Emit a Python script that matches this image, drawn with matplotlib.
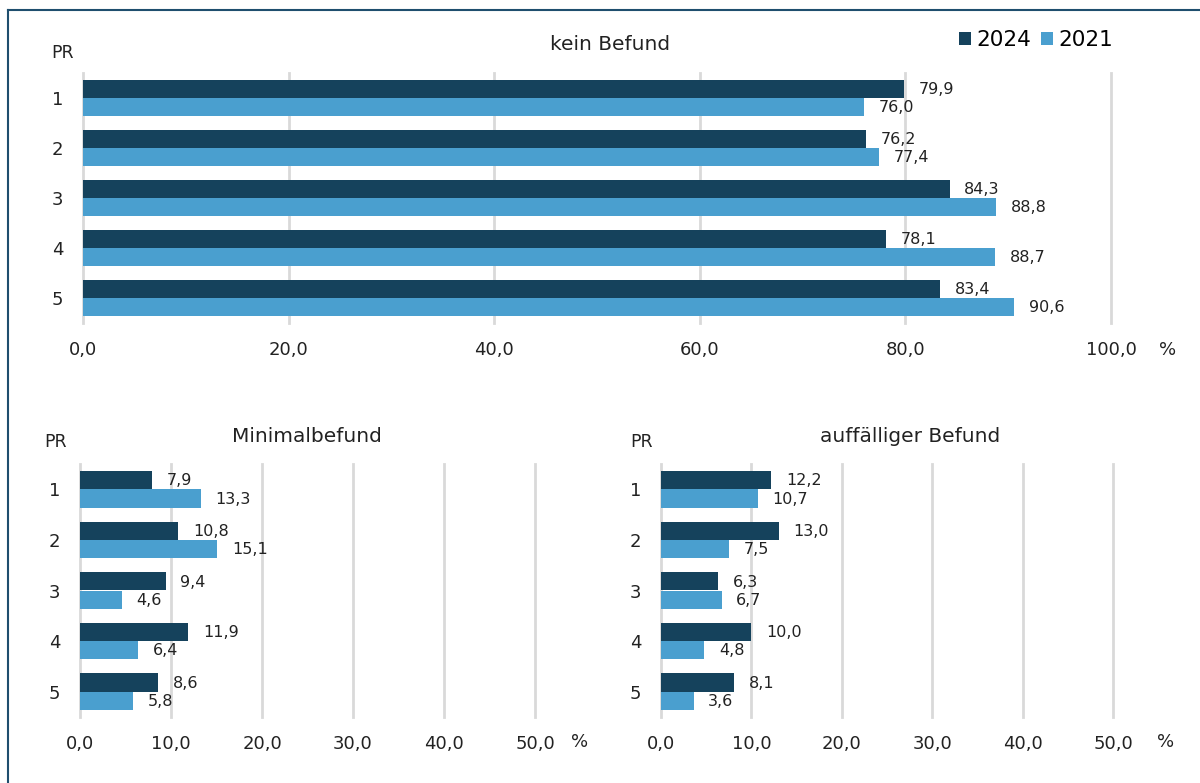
import matplotlib
matplotlib.use("Agg")
import matplotlib.pyplot as plt
from matplotlib.lines import Line2D
from matplotlib.patches import Patch
import numpy as np

categories = ["1", "2", "3", "4", "5"]
series_names = ["2024", "2021"]
kein_2024 = [79.9, 76.2, 84.3, 78.1, 83.4]
kein_2021 = [76.0, 77.4, 88.8, 88.7, 90.6]
minimal_2024 = [7.9, 10.8, 9.4, 11.9, 8.6]
minimal_2021 = [13.3, 15.1, 4.6, 6.4, 5.8]
auff_2024 = [12.2, 13.0, 6.3, 10.0, 8.1]
auff_2021 = [10.7, 7.5, 6.7, 4.8, 3.6]
titles = ["kein Befund", "Minimalbefund", "auffälliger Befund"]
top_ticks = [0, 20, 40, 60, 80, 100]
bottom_ticks = [0, 10, 20, 30, 40, 50]

C_DARK = "#15425C"
C_LIGHT = "#4A9FCF"
GRID = "#D9D9D9"
TXT = "#222222"
FAM = ['DejaVu Sans']

plt.rcParams['font.family'] = FAM
plt.rcParams['font.sans-serif'] = FAM

fig = plt.figure(figsize=(12, 7.83), dpi=100)
W, H = 1200, 783

def px_axes(x0, x1, y0, y1):
    return fig.add_axes([x0 / W, 1 - y1 / H, (x1 - x0) / W, (y1 - y0) / H])

def fmt(v):
    return f"{v:.1f}".replace(".", ",")

def draw(ax, v24, v21, ticks, pct_x, pct_y):
    n = len(categories)
    y = np.arange(n)
    h = 0.36
    ax.barh(y - h / 2, v24, height=h, color=C_DARK, zorder=3)
    ax.barh(y + h / 2, v21, height=h, color=C_LIGHT, zorder=3)
    ax.set_ylim(n - 0.5, -0.5)
    ax.set_xlim(ticks[0], ticks[-1])
    ax.set_xticks(ticks)
    ax.set_xticklabels([fmt(t) for t in ticks], fontsize=13, color=TXT, family=FAM)
    ax.set_yticks(y)
    ax.set_yticklabels(categories, fontsize=13, color=TXT, family=FAM)
    ax.tick_params(length=0)
    ax.tick_params(axis='y', pad=14)
    ax.tick_params(axis='x', pad=13)
    ax.grid(axis='x', color=GRID, linewidth=2, zorder=0)
    for gl in ax.get_xgridlines():
        gl.set_clip_on(False)
    for s in ax.spines.values():
        s.set_visible(False)
    for i in range(n):
        ax.annotate(fmt(v24[i]), (v24[i], y[i] - h / 2), xytext=(10.5, -0.5),
                    textcoords='offset points', fontsize=11.5, family=FAM,
                    va='center', ha='left', color=TXT, zorder=4)
        ax.annotate(fmt(v21[i]), (v21[i], y[i] + h / 2), xytext=(10.5, -0.5),
                    textcoords='offset points', fontsize=11.5, family=FAM,
                    va='center', ha='left', color=TXT, zorder=4)
    fig.text(pct_x / W, 1 - pct_y / H, "%", fontsize=13, color=TXT,
             ha='center', va='center', family=FAM)

# Top chart
ax1 = px_axes(83, 1111, 73, 323)
draw(ax1, kein_2024, kein_2021, top_ticks, 1168, 350)
fig.text(610 / W, 1 - 44 / H, titles[0], fontsize=14.5, color=TXT, ha='center', va='center', family=FAM)
fig.text(63 / W, 1 - 53 / H, "PR", fontsize=12.5, color=TXT, ha='center', va='center', family=FAM)

# Bottom left
ax2 = px_axes(80, 535, 464, 717)
draw(ax2, minimal_2024, minimal_2021, bottom_ticks, 580, 742)
fig.text(307 / W, 1 - 437 / H, titles[1], fontsize=14.5, color=TXT, ha='center', va='center', family=FAM)
fig.text(56 / W, 1 - 442 / H, "PR", fontsize=12.5, color=TXT, ha='center', va='center', family=FAM)

# Bottom right
ax3 = px_axes(661, 1113, 464, 717)
draw(ax3, auff_2024, auff_2021, bottom_ticks, 1166, 742)
fig.text(910 / W, 1 - 437 / H, titles[2], fontsize=14.5, color=TXT, ha='center', va='center', family=FAM)
fig.text(642 / W, 1 - 442 / H, "PR", fontsize=12.5, color=TXT, ha='center', va='center', family=FAM)

# Legend
handles = [Patch(facecolor=C_DARK), Patch(facecolor=C_LIGHT)]
fig.legend(handles, series_names, loc='center', bbox_to_anchor=(1036 / W, 1 - 40 / H),
           ncol=2, frameon=False, prop={'family': FAM, 'size': 15.5},
           handlelength=0.55, handleheight=0.55,
           handletextpad=0.25, columnspacing=0.45)

# Frame lines (left and top)
fig.add_artist(Line2D([8 / W, 8 / W], [0, 1 - 10 / H], color="#1F4E6E", linewidth=1.5))
fig.add_artist(Line2D([8 / W, 1], [1 - 10 / H, 1 - 10 / H], color="#1F4E6E", linewidth=1.5))

fig.savefig("out.png", dpi=100, facecolor="white")
